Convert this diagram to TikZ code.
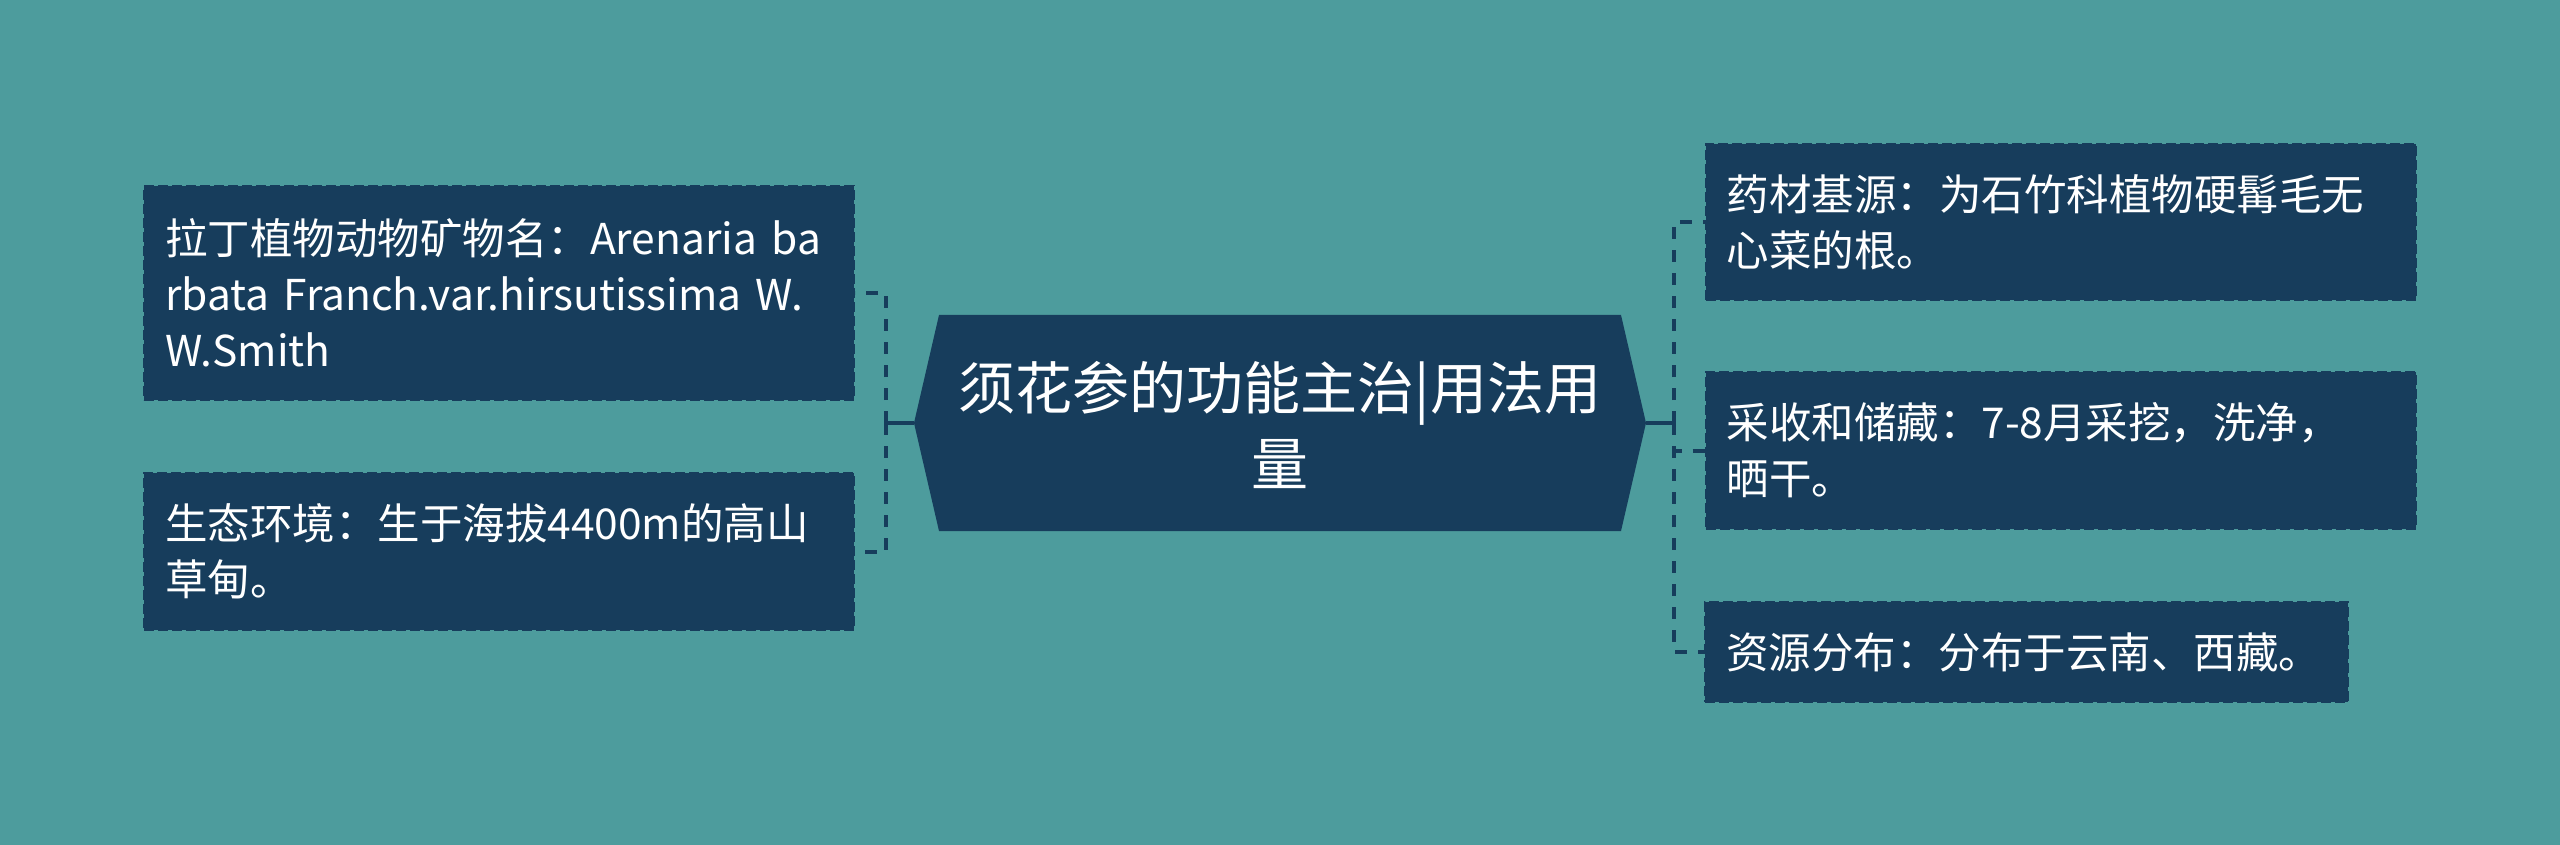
\documentclass[tikz,border=0pt]{standalone}
\usepackage{fontspec}
\setmainfont{Noto Sans CJK SC}
\definecolor{bgteal}{HTML}{4D9C9D}
\definecolor{navy}{HTML}{173D5C}
\begin{document}
\begin{tikzpicture}[x=0.5pt,y=-0.5pt,
  leaf/.style={fill=navy,draw=navy,dash pattern=on 5pt off 2pt,line width=1pt,
    text=white,align=left,inner xsep=10.5pt,inner ysep=0pt,
    font=\fontsize{21.25pt}{28pt}\selectfont,minimum width=355pt,text width=334pt},
  conn/.style={draw=navy,line width=2pt},
  dconn/.style={draw=navy,line width=2pt,dash pattern=on 6pt off 5.5pt}]
\useasboundingbox (0,0) rectangle (2560,845);
\fill[bgteal] (0,0) rectangle (2560,845);
% central node
\coordinate (cL) at (914,423);
\coordinate (cR) at (1646,423);
\fill[navy] (cL) -- (939,315) -- (1621,315) -- (cR) -- (1621,531) -- (939,531) -- cycle;
\node[text=white,align=center,font=\fontsize{28.5pt}{38pt}\selectfont] (c) at (1280,425)
  {须花参的功能主治|用法用\\量};
% left leaves
\node[leaf,minimum height=107pt] (L1) at (499,293)
  {拉丁植物动物矿物名：Arenaria~ba\\rbata~Franch.var.hirsutissima~W.\\W.Smith};
\node[leaf,minimum height=78.5pt] (L2) at (499,551.5)
  {生态环境：生于海拔4400m的高山\\草甸。};
% right leaves
\node[leaf,minimum height=78pt] (R1) at (2060.5,222)
  {药材基源：为石竹科植物硬髯毛无\\心菜的根。};
\node[leaf,minimum height=78.5pt] (R2) at (2060.5,450.5)
  {采收和储藏：7-8月采挖，洗净，\\晒干。};
\node[leaf,minimum height=50pt,minimum width=321.5pt,text width=300.5pt] (R3) at (2026.5,652)
  {资源分布：分布于云南、西藏。};
% connectors
\coordinate (jL) at (886,423);
\coordinate (jR) at (1674,423);
\draw[conn] (cL) -- (jL);
\draw[conn] (cR) -- (jR);
\draw[dconn] (jL) |- (L1.east);
\draw[dconn] (jL) |- (L2.east);
\draw[dconn] (jR) |- (R1.west);
\draw[dconn] (jR) |- (R2.west);
\draw[dconn] (jR) |- (R3.west);
\end{tikzpicture}
\end{document}
